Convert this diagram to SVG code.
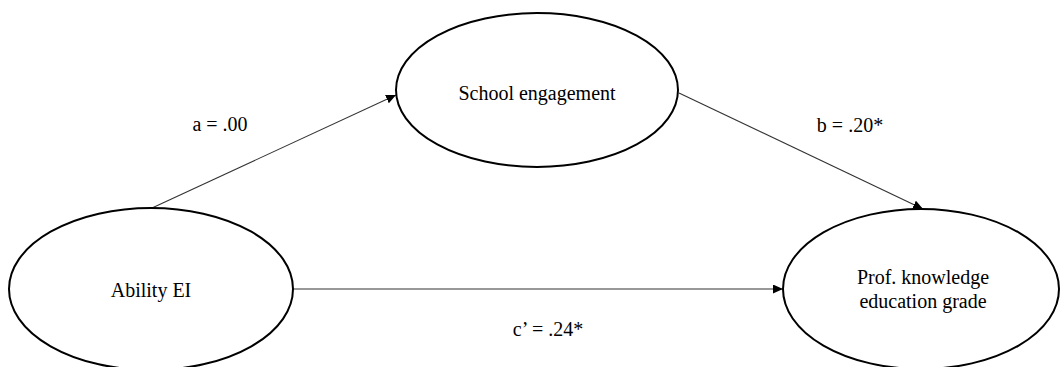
<svg xmlns="http://www.w3.org/2000/svg" width="1061" height="367" viewBox="0 0 1061 367">
<style>
.node{fill:#fff;stroke:#000;stroke-width:2}
.lbl{font-family:"Liberation Serif","Times New Roman",serif;font-size:20px;fill:#000;text-anchor:middle}
.edge{stroke:#333;stroke-width:1.1;fill:none}
</style>
<defs>
<marker id="ah" markerWidth="10" markerHeight="9" refX="10" refY="4.5" orient="auto" markerUnits="userSpaceOnUse">
<path d="M0,0 L10,4.5 L0,9 Z" fill="#000"/>
</marker>
</defs>
<rect width="1061" height="367" fill="#fff"/>
<g id="connectors">
<line class="edge" x1="152" y1="208" x2="396" y2="95" marker-end="url(#ah)"/>
<line class="edge" x1="679" y1="93" x2="923" y2="209" marker-end="url(#ah)"/>
<line class="edge" x1="293" y1="289" x2="783" y2="289" marker-end="url(#ah)"/>
<text class="lbl" x="220" y="131">a = .00</text>
<text class="lbl" x="850" y="132">b = .20*</text>
<text class="lbl" x="548" y="336">c’ = .24*</text>
</g>
<g id="school">
<ellipse class="node" cx="537" cy="90" rx="141" ry="77"/>
<text class="lbl" x="537" y="100">School engagement</text>
</g>
<g id="ability">
<ellipse class="node" cx="151" cy="289" rx="142" ry="81"/>
<text class="lbl" x="151" y="297">Ability EI</text>
</g>
<g id="prof">
<ellipse class="node" cx="921" cy="289" rx="138" ry="80"/>
<text class="lbl" x="923" y="284">Prof. knowledge</text>
<text class="lbl" x="923" y="308">education grade</text>
</g>
</svg>
